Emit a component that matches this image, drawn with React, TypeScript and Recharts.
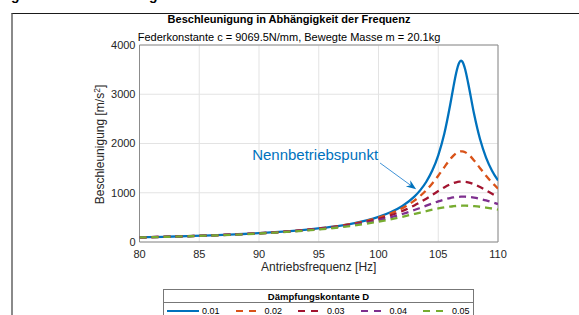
import React from 'react';
import { LineChart, Line, XAxis, YAxis, CartesianGrid, ReferenceArea, ReferenceLine } from 'recharts';

const FONT = '"Liberation Sans", Arial, Helvetica, sans-serif';

const frequencies = [80, 82, 84, 86, 88, 90, 92, 94, 96, 98, 99, 100, 101, 102, 103, 103.5, 104, 104.5, 105, 105.5, 106, 106.25, 106.5, 106.75, 106.9, 107, 107.25, 107.5, 108, 108.5, 109, 109.5, 110];

const accelD001 = [94, 105, 119, 135, 155, 179, 210, 250, 305, 385, 440, 510, 603, 732, 921, 1053, 1223, 1450, 1761, 2193, 2787, 3123, 3433, 3639, 3680, 3668, 3508, 3230, 2599, 2085, 1715, 1448, 1250];
const accelD002 = [93, 105, 118, 135, 154, 178, 208, 248, 302, 378, 429, 494, 577, 688, 840, 937, 1053, 1189, 1346, 1516, 1681, 1749, 1802, 1833, 1840, 1839, 1822, 1782, 1655, 1499, 1345, 1206, 1085];
const accelD003 = [93, 105, 118, 134, 153, 177, 206, 244, 296, 366, 413, 470, 541, 630, 742, 808, 880, 956, 1034, 1108, 1171, 1195, 1213, 1224, 1227, 1227, 1223, 1213, 1173, 1116, 1049, 981, 914];
const accelD004 = [93, 104, 117, 133, 152, 175, 203, 240, 288, 352, 393, 442, 501, 569, 649, 693, 738, 782, 825, 862, 893, 904, 913, 918, 920, 921, 920, 916, 900, 875, 844, 808, 770];
const accelD005 = [92, 103, 116, 132, 150, 172, 200, 234, 278, 336, 372, 413, 460, 512, 569, 598, 627, 655, 681, 702, 720, 726, 731, 735, 736, 737, 737, 736, 728, 716, 699, 680, 658];

const seriesLabels = ['0.01', '0.02', '0.03', '0.04', '0.05'];
const seriesKeys = ['d1', 'd2', 'd3', 'd4', 'd5'];
const seriesColors = ['#0072BD', '#D95319', '#A2142F', '#7E2F8E', '#77AC30'];
const seriesValues = [accelD001, accelD002, accelD003, accelD004, accelD005];

const xTicks = [80, 85, 90, 95, 100, 105, 110];
const yTicks = [0, 1000, 2000, 3000, 4000];

const annotationText = 'Nennbetriebspunkt';
const arrowStart = { x: 100.13, y: 1604 };
const arrowEnd = { x: 103.15, y: 1070 };

const data = frequencies.map((f, i) => {
  const row: any = { f };
  seriesKeys.forEach((k, j) => { row[k] = seriesValues[j][i]; });
  return row;
});

const ArrowShape = (props: any) => {
  const { x1, y1, x2, y2 } = props;
  const ang = Math.atan2(y2 - y1, x2 - x1);
  const c = Math.cos(ang), s = Math.sin(ang);
  const L = 10, Wd = 3.8;
  const bx = x2 - L * c, by = y2 - L * s;
  const nx = x2 - 0.7 * L * c, ny = y2 - 0.7 * L * s;
  const p1 = `${x2},${y2}`;
  const p2 = `${bx - Wd * s},${by + Wd * c}`;
  const p3 = `${nx},${ny}`;
  const p4 = `${bx + Wd * s},${by - Wd * c}`;
  return (
    <g>
      <line x1={x1} y1={y1} x2={nx} y2={ny} stroke="#2a86d1" strokeWidth={0.9} />
      <polygon points={`${p1} ${p2} ${p3} ${p4}`} fill="#0072BD" />
      <text x={x1 - 2} y={y1 - 3} textAnchor="end" fontSize={15} fill="#0072BD" fontFamily={FONT}>{annotationText}</text>
    </g>
  );
};

export default function App() {
  return (
    <div style={{ position: 'absolute', left: 0, top: 0, width: 579, height: 315, overflow: 'hidden', background: '#fff', fontFamily: FONT }}>
      <div style={{ position: 'absolute', left: 0, top: 0, width: 579, height: 4, overflow: 'hidden' }}>
        <span style={{ position: 'absolute', left: 11, top: -13, fontSize: 14, lineHeight: '16px', fontWeight: 'bold', color: '#000' }}>g</span>
        <span style={{ position: 'absolute', left: 149, top: -13, fontSize: 14, lineHeight: '16px', fontWeight: 'bold', color: '#000' }}>g</span>
      </div>
      <div style={{ position: 'absolute', left: 11, top: 13, width: 580, height: 320, borderTop: '1px solid #1a1a1a', borderLeft: '2px solid #8a8a8a', boxSizing: 'border-box' }} />
      <div style={{ position: 'absolute', left: 89, top: 12, width: 400, textAlign: 'center', fontSize: 11, lineHeight: '14px', fontWeight: 'bold', color: '#000' }}>
        Beschleunigung in Abhängigkeit der Frequenz
      </div>
      <div style={{ position: 'absolute', left: 89, top: 29.5, width: 400, textAlign: 'center', fontSize: 11, lineHeight: '14px', color: '#000' }}>
        Federkonstante c = 9069.5N/mm, Bewegte Masse m = 20.1kg
      </div>
      <div style={{ position: 'absolute', left: 0, top: 0 }}>
        <LineChart width={579} height={315} data={data} margin={{ top: 45, right: 81, bottom: 48, left: 80 }}>
          <CartesianGrid stroke="#e3e3e3" strokeWidth={1} />
          <XAxis dataKey="f" type="number" domain={[80, 110]} ticks={xTicks} allowDataOverflow
            height={25} tickLine={false} axisLine={false} tickSize={6} tickMargin={2}
            tick={{ fontSize: 11, fill: '#262626', fontFamily: FONT }} interval={0} />
          <YAxis type="number" domain={[0, 4000]} ticks={yTicks} allowDataOverflow
            width={59.5} tickLine={false} axisLine={false} tickSize={2} tickMargin={2}
            tick={{ fontSize: 11, fill: '#262626', fontFamily: FONT }} interval={0} />
          <ReferenceArea x1={80} x2={110} y1={0} y2={4000} fill="none" fillOpacity={0} stroke="#8c8c8c" strokeWidth={1} ifOverflow="visible" />
          {seriesKeys.map((k, j) => (
            <Line key={k} dataKey={k} type="monotone" stroke={seriesColors[j]} strokeWidth={2.3}
              strokeDasharray={j === 0 ? undefined : '7 5'} dot={false} activeDot={false} isAnimationActive={false} />
          ))}
          <ReferenceLine segment={[arrowStart, arrowEnd]} shape={ArrowShape} ifOverflow="visible" />
        </LineChart>
      </div>
      <div style={{ position: 'absolute', left: 0, top: 136.5, width: 200, height: 15, lineHeight: '15px', fontSize: 12, color: '#262626', textAlign: 'center', transform: 'rotate(-90deg)', transformOrigin: '100px 7.5px' }}>
        Beschleunigung [m/s<span style={{ fontSize: 8.5, position: 'relative', top: -4.5 }}>2</span>]
      </div>
      <div style={{ position: 'absolute', left: 118.75, top: 259.5, width: 400, textAlign: 'center', fontSize: 12, lineHeight: '15px', color: '#262626' }}>
        Antriebsfrequenz [Hz]
      </div>
      <div style={{ position: 'absolute', left: 163, top: 289, width: 311, height: 34, border: '1px solid #777', boxSizing: 'border-box', background: '#fff' }}>
        <div style={{ position: 'absolute', left: 0, top: 0, width: 309, height: 12, borderBottom: '1px solid #777', textAlign: 'center', fontSize: 9.5, lineHeight: '13px', fontWeight: 'bold', color: '#000' }}>
          Dämpfungskontante D
        </div>
        {seriesLabels.map((lab, j) => (
          <div key={lab} style={{ position: 'absolute', left: 3 + j * 62.5, top: 13, height: 16, width: 62 }}>
            <svg width={33} height={16} style={{ position: 'absolute', left: 0, top: 0 }}>
              {j === 0
                ? <line x1={0} y1={8} x2={32} y2={8} stroke={seriesColors[j]} strokeWidth={2} />
                : <line x1={6} y1={8} x2={27} y2={8} stroke={seriesColors[j]} strokeWidth={2} strokeDasharray="7 6" />}
            </svg>
            <span style={{ position: 'absolute', left: 35, top: 0, fontSize: 9, lineHeight: '16px', color: '#000' }}>{lab}</span>
          </div>
        ))}
      </div>
    </div>
  );
}
